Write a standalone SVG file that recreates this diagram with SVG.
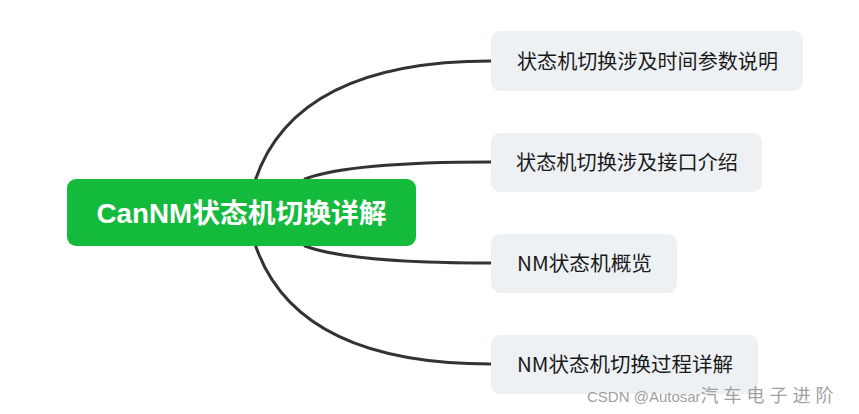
<svg xmlns="http://www.w3.org/2000/svg" width="859" height="414" viewBox="0 0 859 414">
<style>
.sub rect{fill:#eef1f4}
.sub text{font-family:"Microsoft YaHei","Noto Sans CJK SC","Liberation Sans",sans-serif;font-size:20px;fill:#1a1a1a}
.conn path{fill:none;stroke:#333;stroke-width:3;stroke-linecap:round}
</style>
<rect width="859" height="414" fill="#fff"/>
<g class="conn" id="connectors">
<path d="M255 181 Q295 61 491 61"/>
<path d="M305 179 Q350 162 491 162"/>
<path d="M305 246 Q350 263 491 263"/>
<path d="M255 244 Q295 364 491 364"/>
</g>
<g id="root">
<rect x="67" y="179" width="349" height="67" rx="9" fill="#13ba3b"/>
<text x="241.5" y="223" text-anchor="middle" font-family="Liberation Sans,'Noto Sans CJK SC',sans-serif" font-weight="bold" font-size="27" fill="#fff" textLength="290" lengthAdjust="spacingAndGlyphs">CanNM状态机切换详解</text>
</g>
<g class="sub" id="n1">
<rect x="491" y="31" width="312" height="60" rx="9"/>
<text x="517" y="69" textLength="261" lengthAdjust="spacingAndGlyphs">状态机切换涉及时间参数说明</text>
</g>
<g class="sub" id="n2">
<rect x="491" y="133" width="271" height="59" rx="9"/>
<text x="516" y="170" textLength="222" lengthAdjust="spacingAndGlyphs">状态机切换涉及接口介绍</text>
</g>
<g class="sub" id="n3">
<rect x="491" y="234" width="186" height="59" rx="9"/>
<text x="517" y="271" textLength="135" lengthAdjust="spacingAndGlyphs">NM状态机概览</text>
</g>
<g class="sub" id="n4">
<rect x="491" y="335" width="267" height="59" rx="9"/>
<text x="517" y="372" textLength="216" lengthAdjust="spacingAndGlyphs">NM状态机切换过程详解</text>
</g>
<text x="587" y="402" font-family="Liberation Sans,'Noto Sans CJK SC',sans-serif" fill="#a0a0a0"><tspan font-size="15">CSDN @Autosar</tspan><tspan font-size="18" letter-spacing="5">汽车电子进阶</tspan></text>
</svg>
